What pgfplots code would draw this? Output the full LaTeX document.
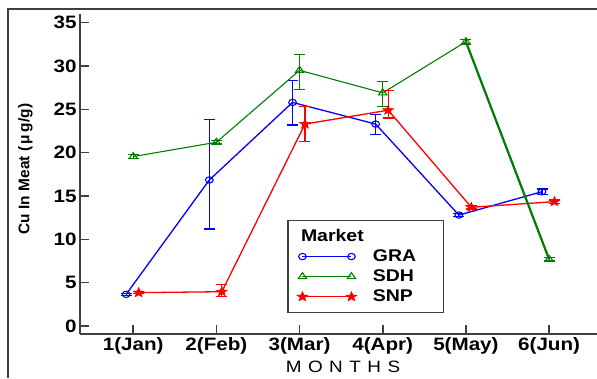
\documentclass[border=0pt]{standalone}
\usepackage{fontspec}
\setmainfont{Liberation Sans}
\newfontfamily\strfont[FakeStretch=1.15]{Liberation Sans}
\usepackage{pgfplots}
\pgfplotsset{compat=1.18}
\definecolor{axgray}{RGB}{64,64,64}
\definecolor{cgra}{RGB}{0,0,255}
\definecolor{csdh}{RGB}{0,125,0}
\definecolor{csnp}{RGB}{255,0,0}
\pgfdeclareplotmark{fivestar}{%
 \pgfpathmoveto{\pgfpointpolar{90}{\pgfplotmarksize}}%
 \pgfpathlineto{\pgfpointpolar{126}{0.42\pgfplotmarksize}}%
 \pgfpathlineto{\pgfpointpolar{162}{\pgfplotmarksize}}%
 \pgfpathlineto{\pgfpointpolar{198}{0.42\pgfplotmarksize}}%
 \pgfpathlineto{\pgfpointpolar{234}{\pgfplotmarksize}}%
 \pgfpathlineto{\pgfpointpolar{270}{0.42\pgfplotmarksize}}%
 \pgfpathlineto{\pgfpointpolar{306}{\pgfplotmarksize}}%
 \pgfpathlineto{\pgfpointpolar{342}{0.42\pgfplotmarksize}}%
 \pgfpathlineto{\pgfpointpolar{18}{\pgfplotmarksize}}%
 \pgfpathlineto{\pgfpointpolar{54}{0.42\pgfplotmarksize}}%
 \pgfpathclose\pgfusepathqfillstroke}
\begin{document}
\begin{tikzpicture}[x=1bp,y=1bp]
\useasboundingbox (0,0) rectangle (597,378);
\draw[axgray, line width=1.3bp] (8,0) -- (8,369) -- (597,369);
\begin{axis}[
  at={(80bp,44bp)}, anchor=south west, scale only axis,
  width=517bp, height=320bp,
  xmin=0.36, xmax=6.576, ymin=-0.92, ymax=36.0,
  axis x line=bottom, axis y line=left,
  axis line style={-, line width=1.5bp, color=axgray},
  tick align=inside, major tick length=9bp,
  tick style={line width=1.5bp, color=axgray},
  xtick={1,2,3,4,5,6},
  xticklabels={1(Jan),2(Feb),3(Mar),4(Apr),5(May),6(Jun)},
  ytick={0,5,10,15,20,25,30,35},
  /pgf/number format/assume math mode=true,
  ticklabel style={font=\strfont\bfseries\fontsize{18}{18}\selectfont, text=black},
  xlabel={M\hspace{6.5bp}O\hspace{6.5bp}N\hspace{6.5bp}T\hspace{6.5bp}H\hspace{6.5bp}S},
  xlabel style={font=\strfont\fontsize{16.5}{16.5}\selectfont, at={(axis description cs:0.5087,-0.084)}, anchor=north, inner sep=0pt},
  ylabel={Cu In Meat (\,μ\,g/g)},
  ylabel style={font=\bfseries\fontsize{15.5}{15.5}\selectfont, at={(axis description cs:-0.1054,0.5156)}, anchor=center},
  legend cell align=left,
  legend image code/.code={\draw[#1] plot coordinates {(0bp,0bp) (49bp,0bp)};},
  legend style={at={(axis description cs:0.401,0.356)}, anchor=north west,
    draw=axgray, line width=1.3bp, fill=white,
    inner xsep=9bp, inner ysep=7bp, row sep=2.6bp, column sep=14bp,
    font=\strfont\bfseries\fontsize{17}{17}\selectfont,
    cells={inner sep=0pt, text height=12bp, text depth=5.5bp}},
  error bars/y dir=both, error bars/y explicit,
  error bars/error mark options={rotate=90, mark size=5.5bp, line width=1.2bp},
]
\addlegendimage{empty legend}
\addlegendentry{\hspace*{-78bp}Market}
% GRA
\addplot[cgra, line width=1.3bp, mark=o, mark size=3.2bp, mark options={fill=white, solid, line width=1.1bp, xscale=1.2},
  error bars/error bar style={cgra, line width=1.2bp}]
  coordinates {
  (0.915,3.66) += (0,0.1) -= (0,0.1)
  (1.915,16.85) += (0,6.95) -= (0,5.65)
  (2.915,25.8) += (0,2.5) -= (0,2.6)
  (3.915,23.3) += (0,1.1) -= (0,1.2)
  (4.915,12.8) += (0,0.2) -= (0,0.2)
  (5.915,15.5) += (0,0.3) -= (0,0.3)
  };
\addlegendentry{GRA\hspace*{16bp}}
% SDH
\addplot[csdh, line width=1.1bp, mark=triangle, mark size=4bp, mark options={fill=white, solid, line width=1.1bp, xscale=1.2},
  error bars/error bar style={csdh, line width=1.2bp}]
  coordinates {
  (1,19.55) += (0,0.2) -= (0,0.2)
  (2,21.2) += (0,0.2) -= (0,0.2)
  (3,29.5) += (0,1.8) -= (0,2.2)
  (4,26.9) += (0,1.3) -= (0,1.6)
  (5,32.8) += (0,0.3) -= (0,0.3)
  (6,7.7) += (0,0.2) -= (0,0.2)
  };
\addlegendentry{SDH}
% SNP
\addplot[csnp, line width=1.3bp, mark=fivestar, mark size=5bp, mark options={fill=csnp, solid, line width=0.6bp, xscale=1.15},
  error bars/error bar style={csnp, line width=1.2bp}]
  coordinates {
  (1.065,3.85) += (0,0.1) -= (0,0.1)
  (2.065,3.96) += (0,0.85) -= (0,0.55)
  (3.065,23.3) += (0,2.0) -= (0,2.0)
  (4.065,24.9) += (0,2.3) -= (0,0.9)
  (5.065,13.7) += (0,0.2) -= (0,0.2)
  (6.065,14.35) += (0,0.2) -= (0,0.2)
  };
\addlegendentry{SNP}
% thicker SDH segment May-Jun
\addplot[csdh, line width=2.2bp, forget plot] coordinates {(5,32.8) (6,7.7)};
\end{axis}
\end{tikzpicture}
\end{document}
